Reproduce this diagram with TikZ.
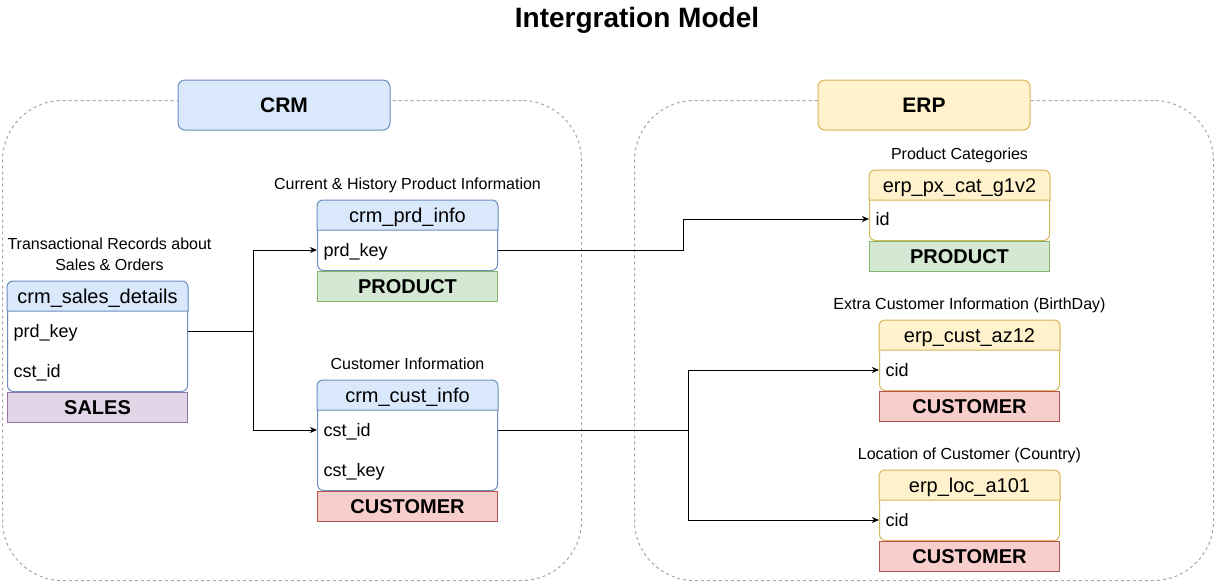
\documentclass[tikz,border=0pt]{standalone}
\usepackage{fontspec}
\setmainfont{Liberation Sans}
\usetikzlibrary{arrows.meta}

\definecolor{crmfill}{HTML}{DAE8FC}
\definecolor{crmline}{HTML}{6C8EBF}
\definecolor{erpfill}{HTML}{FFF2CC}
\definecolor{erpline}{HTML}{D6B656}
\definecolor{salesfill}{HTML}{E1D5E7}
\definecolor{salesline}{HTML}{9673A6}
\definecolor{prodfill}{HTML}{D5E8D4}
\definecolor{prodline}{HTML}{82B366}
\definecolor{custfill}{HTML}{F8CECC}
\definecolor{custline}{HTML}{B85450}
\definecolor{zoneline}{HTML}{A6A6A6}

\tikzset{
  zone/.style={draw=zoneline, dash pattern=on 3pt off 3pt, rounded corners=60pt,
    anchor=north west, inner sep=0pt},
  zonelabel/.style={rounded corners=7pt, minimum width=212pt, minimum height=50pt,
    font=\fontsize{21}{25}\selectfont\bfseries},
  tblframe/.style={fill=white, rounded corners=6pt, minimum width=180pt, inner sep=0pt},
  tbltitle/.style={font=\fontsize{20}{24}\selectfont, inner sep=0pt,
    text height=14pt, text depth=0pt},
  tblfoot/.style={minimum width=180pt, minimum height=30pt, inner sep=0pt,
    font=\fontsize{20}{24}\selectfont\bfseries, text height=14pt, text depth=0pt},
  salesfoot/.style={fill=salesfill, draw=salesline},
  prodfoot/.style={fill=prodfill, draw=prodline},
  custfoot/.style={fill=custfill, draw=custline},
  field/.style={font=\fontsize{18}{22}\selectfont, anchor=west, inner sep=0pt,
    text height=13pt, text depth=0pt},
  tblcap/.style={font=\fontsize{16}{21}\selectfont, align=center, anchor=south,
    inner sep=0pt, text depth=4pt},
  link/.style={draw=black, -{Stealth[length=7pt, width=6pt, inset=2pt]}},
}

% #1 name, #2 left x, #3 top y, #4 body height, #5 palette (crm/erp),
% #6 table name, #7 footer text, #8 footer style
\newcommand\erdtable[8]{%
  \node[tblframe, draw=#5line, minimum height=#4pt+30pt, anchor=north west] (#1) at (#2,#3) {};
  \filldraw[fill=#5fill, draw=#5line] ([yshift=-30pt]#1.north west)
    [rounded corners=6pt] -- (#1.north west) -- (#1.north east)
    [sharp corners] -- ([yshift=-30pt]#1.north east) -- cycle;
  \node[tbltitle] (#1-h) at ([yshift=-15pt]#1.north) {#6};
  \node[tblfoot, #8, anchor=north] (#1-f) at (#1.south) {#7};
}

\begin{document}
\begin{tikzpicture}[x=1pt, y=-1pt, line width=1pt]
\useasboundingbox (0,0) rectangle (1215,581);

% title
\node[font=\fontsize{28}{32}\selectfont\bfseries] (title) at (637,20) {Intergration Model};

% source system zones
\node[zone, minimum width=579pt, minimum height=480pt] (crm-zone) at (2,100) {};
\node[zone, minimum width=579pt, minimum height=480pt] (erp-zone) at (634,100) {};
\node[zonelabel, fill=crmfill, draw=crmline] (crm-label) at (284,105) {CRM};
\node[zonelabel, fill=erpfill, draw=erpline] (erp-label) at (924,105) {ERP};

% CRM tables
\erdtable{sales}{7}{281}{80}{crm}{crm\_sales\_details}{SALES}{salesfoot}
\node[field] (sales-k1) at ([xshift=6pt,yshift=-50pt]sales.north west) {prd\_key};
\node[field] (sales-k2) at ([xshift=6pt,yshift=-90pt]sales.north west) {cst\_id};
\node[tblcap] (sales-c) at ([xshift=12pt,yshift=6pt]sales.north) {Transactional Records about\\Sales \& Orders};

\erdtable{prd}{317}{200}{40}{crm}{crm\_prd\_info}{PRODUCT}{prodfoot}
\node[field] (prd-k1) at ([xshift=6pt,yshift=-50pt]prd.north west) {prd\_key};
\node[tblcap] (prd-c) at ([yshift=6pt]prd.north) {Current \& History Product Information};

\erdtable{cust}{317}{380}{80}{crm}{crm\_cust\_info}{CUSTOMER}{custfoot}
\node[field] (cust-k1) at ([xshift=6pt,yshift=-50pt]cust.north west) {cst\_id};
\node[field] (cust-k2) at ([xshift=6pt,yshift=-90pt]cust.north west) {cst\_key};
\node[tblcap] (cust-c) at ([yshift=6pt]cust.north) {Customer Information};

% ERP tables
\erdtable{pxcat}{869}{170}{40}{erp}{erp\_px\_cat\_g1v2}{PRODUCT}{prodfoot}
\node[field] (pxcat-k1) at ([xshift=6pt,yshift=-49pt]pxcat.north west) {id};
\node[tblcap] (pxcat-c) at ([yshift=6pt]pxcat.north) {Product Categories};

\erdtable{az12}{879}{320}{40}{erp}{erp\_cust\_az12}{CUSTOMER}{custfoot}
\node[field] (az12-k1) at ([xshift=6pt,yshift=-50pt]az12.north west) {cid};
\node[tblcap] (az12-c) at ([yshift=6pt]az12.north) {Extra Customer Information (BirthDay)};

\erdtable{loc}{879}{470}{40}{erp}{erp\_loc\_a101}{CUSTOMER}{custfoot}
\node[field] (loc-k1) at ([xshift=6pt,yshift=-50pt]loc.north west) {cid};
\node[tblcap] (loc-c) at ([yshift=6pt]loc.north) {Location of Customer (Country)};

% routing columns of the connectors
\coordinate (bus1) at (253,0);
\coordinate (bus2) at (683,0);
\coordinate (bus3) at (688,0);

% relationships
\draw[link] (sales-k1 -| sales.east) -- (sales-k1 -| bus1) |- (prd-k1 -| prd.west);
\draw[link] (sales-k1 -| sales.east) -- (sales-k1 -| bus1) |- (cust-k1 -| cust.west);
\draw[link] (prd-k1 -| prd.east) -- (prd-k1 -| bus2) |- (pxcat-k1 -| pxcat.west);
\draw[link] (cust-k1 -| cust.east) -- (cust-k1 -| bus3) |- (az12-k1 -| az12.west);
\draw[link] (cust-k1 -| cust.east) -- (cust-k1 -| bus3) |- (loc-k1 -| loc.west);
\end{tikzpicture}
\end{document}
